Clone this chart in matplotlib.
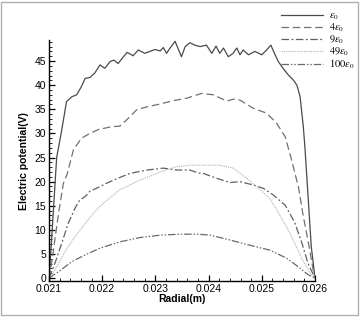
import matplotlib
matplotlib.use('Agg')
import matplotlib.pyplot as plt
from matplotlib.ticker import MultipleLocator
from matplotlib.patches import Rectangle

plt.rcParams['font.family'] = ['Liberation Sans', 'DejaVu Sans']
plt.rcParams['mathtext.fontset'] = 'stix'

# 读图得到的数据
x_e1 = [0.021, 0.02102, 0.02105, 0.02108, 0.021145, 0.02124, 0.02133, 0.02143, 0.02152, 0.02161,
        0.02168, 0.02177, 0.02186, 0.02196, 0.02205, 0.02215, 0.02222, 0.0223, 0.0224, 0.02247,
        0.02258, 0.02268, 0.0228, 0.0229, 0.02299, 0.02309, 0.02315, 0.02321, 0.02327, 0.02337,
        0.02349, 0.02356, 0.02365, 0.02374, 0.02384, 0.02396, 0.02406, 0.02414, 0.02421, 0.02428,
        0.02437, 0.02446, 0.02453, 0.02459, 0.02465, 0.02475, 0.02487, 0.025, 0.02509, 0.02517,
        0.02525, 0.02531, 0.0254, 0.0255, 0.02559, 0.02566, 0.02572, 0.02578, 0.02581, 0.02587,
        0.02593, 0.026]
y_e1 = [0, 3, 8, 13.5, 25, 30.7, 36.6, 37.6, 38.0, 39.7,
        41.4, 41.6, 42.5, 44.2, 43.5, 44.9, 45.2, 44.5, 45.9, 46.8,
        46.1, 47.3, 46.6, 47.0, 47.4, 47.1, 47.8, 46.6, 47.6, 49.1,
        45.9, 48.0, 48.8, 48.3, 48.0, 48.3, 46.6, 48.1, 46.6, 47.7,
        45.9, 46.6, 47.7, 46.3, 47.3, 46.3, 47.0, 46.3, 47.3, 48.3,
        46.3, 44.9, 43.5, 42.1, 41.1, 40.0, 37.6, 31.4, 27.2, 16.9,
        6.5, 0]

x_e4 = [0.021, 0.02105, 0.02111, 0.02118, 0.02127, 0.02134, 0.02146, 0.02161, 0.02177, 0.02193,
        0.02218, 0.02233, 0.02246, 0.02265, 0.02284, 0.02309, 0.02334, 0.02359, 0.02387, 0.02409,
        0.02434, 0.02447, 0.02459, 0.02484, 0.02509, 0.02528, 0.02544, 0.02556, 0.02569, 0.02578,
        0.02589, 0.02596, 0.026]
y_e4 = [0, 3, 7.9, 13.4, 19.6, 21.5, 26.6, 29.0, 30.0, 30.8,
        31.4, 31.5, 32.8, 34.9, 35.5, 36.1, 36.8, 37.3, 38.3, 38.0,
        36.7, 37.1, 36.9, 35.2, 34.2, 32.1, 29.3, 24.5, 18.8, 12.8,
        6.5, 2.0, 0]

x_e9 = [0.021, 0.02111, 0.02124, 0.02136, 0.02149, 0.02158, 0.02168, 0.02177, 0.02193, 0.02205,
        0.02221, 0.02252, 0.02284, 0.02315, 0.0234, 0.02365, 0.0238, 0.0239, 0.02415, 0.0244,
        0.02459, 0.02484, 0.02503, 0.02522, 0.02544, 0.02562, 0.02575, 0.02587, 0.026]
y_e9 = [0, 3.0, 7.2, 11.3, 14.5, 16.2, 16.9, 18.0, 18.8, 19.5,
        20.3, 21.7, 22.4, 22.8, 22.4, 22.4, 21.8, 21.7, 20.7, 19.8,
        20.0, 19.3, 18.6, 17.2, 15.1, 11.5, 7.4, 3.0, 0]

x_e49 = [0.021, 0.02105, 0.02118, 0.0213, 0.02149, 0.02168, 0.02186, 0.02205, 0.02233, 0.02271,
         0.02309, 0.0234, 0.02365, 0.02421, 0.02446, 0.02472, 0.02497, 0.02515, 0.02531, 0.02553,
         0.02575, 0.02591, 0.026]
y_e49 = [0, 0.6, 3.0, 5.5, 8.6, 11.3, 13.8, 15.8, 18.3, 20.3,
         22.0, 23.1, 23.4, 23.4, 22.8, 20.7, 18.3, 16.5, 13.6, 9.3,
         4.1, 1.0, 0]

x_e100 = [0.021, 0.02118, 0.02143, 0.02168, 0.02196, 0.02233, 0.02271, 0.02309, 0.02346, 0.0238,
          0.02403, 0.0244, 0.02478, 0.02515, 0.02547, 0.02569, 0.02587, 0.026]
y_e100 = [0, 1.3, 3.4, 4.8, 6.2, 7.5, 8.4, 8.9, 9.1, 9.1,
          8.9, 7.9, 6.8, 5.8, 4.1, 2.3, 0.7, 0]

labels = [r'$\varepsilon_0$', r'$4\varepsilon_0$', r'$9\varepsilon_0$',
          r'$49\varepsilon_0$', r'$100\varepsilon_0$']

fig = plt.figure(figsize=(3.6, 3.2), dpi=100)
ax = fig.add_axes([0.136, 0.122, 0.739, 0.752])

ax.plot(x_e1, y_e1, color='#4a4a4a', lw=0.9, ls='-', label=labels[0])
ax.plot(x_e4, y_e4, color='#707070', lw=0.9, ls=(0, (6, 3)), label=labels[1])
ax.plot(x_e9, y_e9, color='#606060', lw=0.9, ls=(0, (6, 2, 1.5, 2)), label=labels[2])
ax.plot(x_e49, y_e49, color='#bcbcbc', lw=0.9, ls=(0, (1, 0.8)), label=labels[3])
ax.plot(x_e100, y_e100, color='#6a6a6a', lw=0.9, ls=(0, (6, 1.5, 1.2, 1.5, 1.2, 1.5)), label=labels[4])

ax.set_xlim(0.021, 0.026)
ax.set_ylim(-0.6, 49.3)
ax.xaxis.set_minor_locator(MultipleLocator(0.0002))
ax.yaxis.set_minor_locator(MultipleLocator(1))
ax.set_xticks([0.021, 0.022, 0.023, 0.024, 0.025, 0.026])
ax.set_xticklabels(['0.021', '0.022', '0.023', '0.024', '0.025', '0.026'])
ax.set_yticks(range(0, 50, 5))
ax.tick_params(which='major', direction='in', length=4, width=0.9, labelsize=7.5, pad=2)
ax.tick_params(which='minor', direction='in', length=2, width=0.6)

for s in ['top', 'right']:
    ax.spines[s].set_visible(False)
for s in ['left', 'bottom']:
    ax.spines[s].set_linewidth(1.0)

ax.set_xlabel('Radial(m)', fontsize=7.5, fontweight='bold', labelpad=0)
ax.set_ylabel('Electric potential(V)', fontsize=7.5, fontweight='bold', labelpad=4)

fig.legend(loc='upper left', bbox_to_anchor=(0.77, 0.98), frameon=False,
           fontsize=7.5, handlelength=4.0, labelspacing=-0.05, handletextpad=0.6,
           borderaxespad=0)

# 外边框
fig.patches.append(Rectangle((0.004, 0.016), 0.99, 0.978, transform=fig.transFigure,
                             fill=False, edgecolor='#b0b0b0', lw=1.0))

plt.savefig('out.png', dpi=100)
